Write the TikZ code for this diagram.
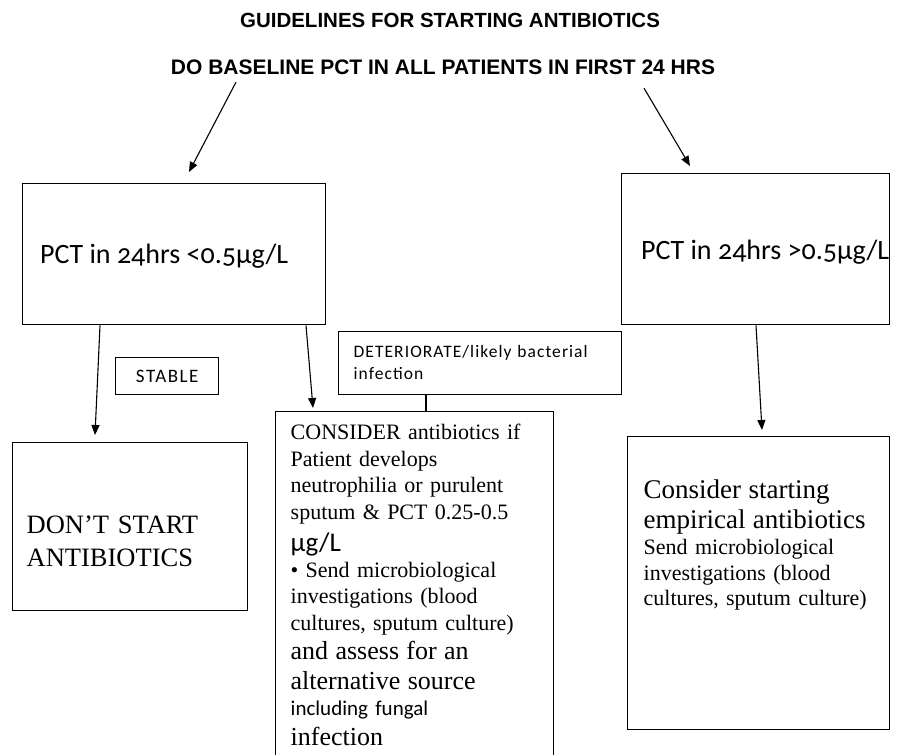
\documentclass[tikz,border=0pt]{standalone}
\usepackage{fontspec}
\setmainfont{Liberation Serif}
\newfontfamily\headfont{Liberation Sans}
\newfontfamily\calfont[Numbers=OldStyle]{Carlito}
\usetikzlibrary{arrows.meta, calc}

\begin{document}
\begin{tikzpicture}[x=1pt, y=-1pt,
        box/.style={draw, line width=1.4pt, inner ysep=0pt, anchor=north west},
        arr/.style={-{Triangle[length=10pt, width=8pt]}, line width=1.1pt}]
        \useasboundingbox (0,0) rectangle (898,755);

        \node[inner sep=0pt, font={\headfont\bfseries\fontsize{20.5}{24}\selectfont}] (title) at (450,20) {GUIDELINES FOR STARTING ANTIBIOTICS};
        \node[inner sep=0pt, font={\headfont\bfseries\fontsize{21}{25}\selectfont}] (sub) at (443,67.5) {DO BASELINE PCT IN ALL PATIENTS IN FIRST 24 HRS};

        % first results
        \node[box, minimum width=303, text height=80, text depth=61, font={\calfont\fontsize{28}{32}\selectfont}] (pctlow) at (22,183) {PCT in 24hrs <0.5µg/L\kern20pt};
        \node[box, inner xsep=0pt, minimum width=268, text height=86, text depth=65, font={\calfont\fontsize{28}{32}\selectfont}] (pcthigh) at (621,173) {\hspace{19pt}PCT in 24hrs >0.5µg/L};

        \node[box, minimum width=103, minimum height=37, font={\calfont\addfontfeature{LetterSpace=8}\fontsize{19}{22}\selectfont}] (stable) at (115,357) {STABLE};
        \node[box, inner xsep=15pt, text width=253, align=left, text height=26, text depth=37, font={\calfont\addfontfeature{LetterSpace=6}\fontsize{17.5}{22}\selectfont}] (deter) at (338,331) {DETERIORATE/likely bacterial\\infection};

        % actions
        \node[box, inner xsep=14pt, text width=207, align=left, text height=91, text depth=77, font={\fontsize{26.5}{32.5}\selectfont}] (nostart) at (12,442) {DON’T START\\ANTIBIOTICS};

        \node[box, inner xsep=15pt, text width=248, align=left, text height=28, text depth=360, font={\fontsize{22}{26.5}\selectfont}] (consider) at (275,411) {CONSIDER  antibiotics if\\
            Patient develops\\
            neutrophilia or purulent\\
            sputum \& PCT 0.25-0.5\\[6pt]
            {\calfont\fontsize{27}{32}\selectfont µg/L}\\[-1pt]
            • Send microbiological\\
            investigations (blood\\
            cultures, sputum culture)\\[3pt]
            {\fontsize{26}{30}\selectfont and assess for an}\\[3pt]
            {\fontsize{26}{30}\selectfont alternative source}\\
            {\calfont\fontsize{21}{26}\selectfont including fungal}\\[3pt]
            {\fontsize{26}{30}\selectfont infection}};

        \node[box, inner xsep=16pt, text width=230, align=left, text height=62, text depth=231, font={\fontsize{22}{25.5}\selectfont}] (result) at (627,436) {{\fontsize{27}{30}\selectfont Consider starting}\\[4pt]
            {\fontsize{27}{30}\selectfont empirical antibiotics}\\[1pt]
            Send microbiological\\
            investigations (blood\\
            cultures, sputum culture)};

        \draw[arr] ([shift={(-207,7)}]sub.south) -- ([shift={(167,-11)}]pctlow.north west);
        \draw[arr] ([shift={(201,13)}]sub.south) -- ([shift={(69,-7)}]pcthigh.north west);
        \draw[arr] ([shift={(78,0)}]pctlow.south west) -- ([shift={(83,-7)}]nostart.north west);
        \draw[arr] ([shift={(284,0)}]pctlow.south west) -- ([shift={(38,-3)}]consider.north west);
        \draw[line width=2pt] ([shift={(88,0)}]deter.south west) -- ([shift={(151,0)}]consider.north west);
        \draw[arr] ([shift={(135,0)}]pcthigh.south west) -- ([shift={(135,-6)}]result.north west);
\end{tikzpicture}
\end{document}
